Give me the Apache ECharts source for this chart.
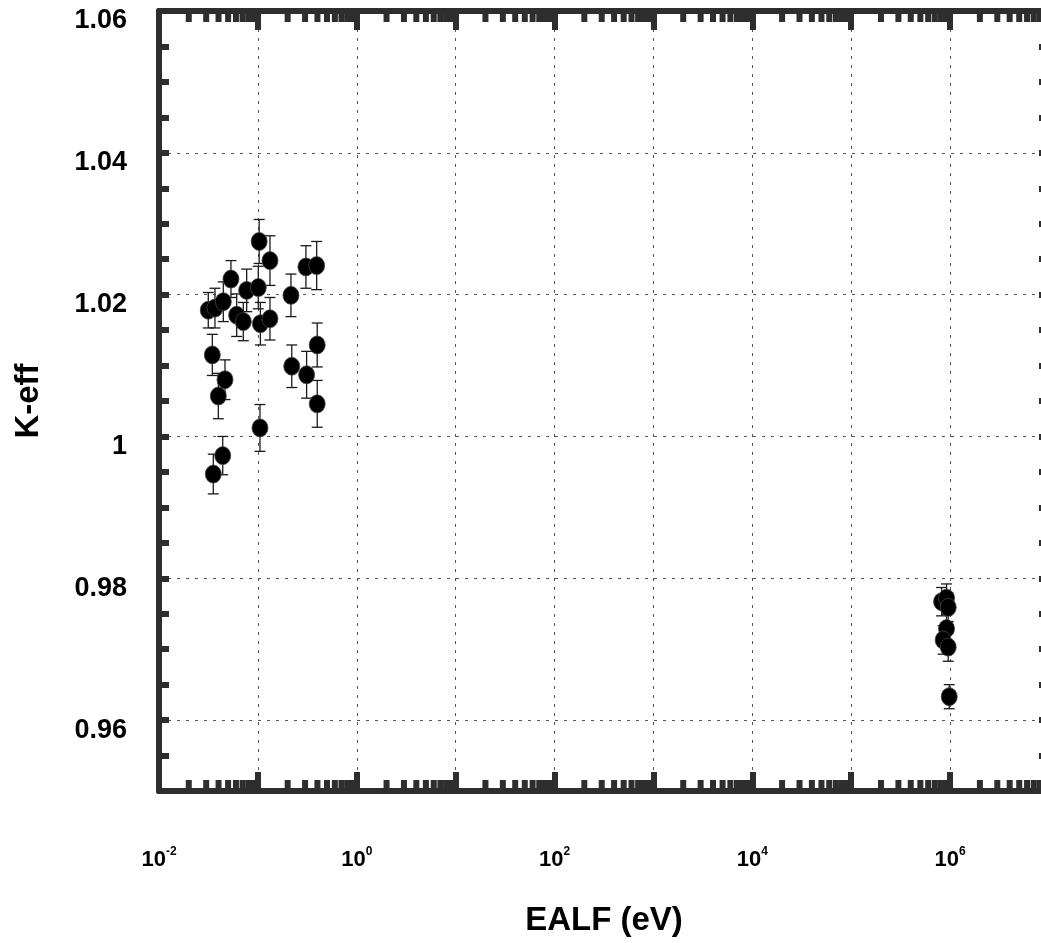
<!DOCTYPE html>
<html><head><meta charset="utf-8">
<script src="https://cdn.jsdelivr.net/npm/echarts@6/dist/echarts.min.js"></script>
<style>html,body{margin:0;padding:0;background:#fff}#c{width:1041px;height:943px}</style>
</head><body><div id="c"></div>
<script>
// EALF (eV) of each benchmark case
const ealf = [0.0315, 0.0346, 0.0354, 0.0368, 0.0398, 0.0441, 0.0447, 0.0465, 0.0534, 0.0610,
              0.0712, 0.0770, 0.1009, 0.1030, 0.1050, 0.1060, 0.1325, 0.1325, 0.216, 0.220,
              0.306, 0.311, 0.393, 0.398, 0.398,
              8.2e5, 9.2e5, 9.57e5, 9.2e5, 8.5e5, 9.57e5, 9.8e5];
// calculated k-eff
const keff = [1.0178, 1.0115, 0.9947, 1.0181, 1.0057, 0.9973, 1.0190, 1.0080, 1.0222, 1.0171,
              1.0162, 1.0206, 1.0210, 1.0275, 1.0012, 1.0159, 1.0248, 1.0166, 1.0199, 1.0099,
              1.0239, 1.0087, 1.0241, 1.0129, 1.0046,
              0.9767, 0.9772, 0.9759, 0.9729, 0.9713, 0.9703, 0.9633];
// one-sigma uncertainty
const sigma = [0.0025, 0.0029, 0.0028, 0.0028, 0.0032, 0.0027, 0.0028, 0.0028, 0.0026, 0.0030,
               0.0027, 0.0030, 0.0030, 0.0031, 0.0033, 0.0030, 0.0035, 0.0030, 0.0030, 0.0030,
               0.0030, 0.0033, 0.0034, 0.0031, 0.0033,
               0.0020, 0.0020, 0.0020, 0.0020, 0.0020, 0.0020, 0.0017];
const xLabelExponents = [-2, 0, 2, 4, 6];
const xRange = [0.01, 1e7];
const yRange = [0.95, 1.06];

const FONT = "'Liberation Sans', Arial, Helvetica, sans-serif";
const FRAME = '#2e2e2e';

const points = ealf.map((x, i) => [x, keff[i], sigma[i]]);
// log minor tick positions (2..9 x 10^n)
const minorVals = [];
for (let n = -2; n <= 6; n++) for (let k = 2; k <= 9; k++) minorVals.push([k * Math.pow(10, n), 1]);

const chart = echarts.init(document.getElementById('c'), null, {renderer: 'canvas'});

const xCommon = {
  type: 'log', logBase: 10, min: xRange[0], max: xRange[1], splitNumber: 9,
  axisLine: {show: true, onZero: false, lineStyle: {color: FRAME, width: 6}},
  axisTick: {show: true, inside: true, length: 19, lineStyle: {color: FRAME, width: 6}},
  minorTick: {show: false}, minorSplitLine: {show: false}
};
const yCommon = {
  type: 'value', min: yRange[0], max: yRange[1], scale: true,
  axisLine: {show: true, onZero: false, lineStyle: {color: FRAME, width: 6}},
  axisTick: {show: true, inside: true, length: 10, lineStyle: {color: FRAME, width: 6}},
  minorTick: {show: true, splitNumber: 4, length: 10, lineStyle: {color: FRAME, width: 6}},
  minorSplitLine: {show: false}
};
const gridLine = {show: true, lineStyle: {color: '#555', width: 1, type: [3, 6]}};

chart.setOption({
  animation: false,
  backgroundColor: '#fff',
  grid: {left: 159, top: 11, width: 890, height: 780, containLabel: false, outerBoundsMode: 'none', show: false},
  xAxis: [
    Object.assign({}, xCommon, {
      position: 'bottom',
      name: 'EALF (eV)', nameLocation: 'middle', nameGap: 113,
      nameTextStyle: {fontFamily: FONT, fontWeight: 'bold', fontSize: 33, color: '#000'},
      splitLine: gridLine,
      axisLabel: {
        show: true, margin: 55, showMinLabel: true, showMaxLabel: true,
        formatter: v => {
          const e = Math.round(Math.log10(v));
          return xLabelExponents.includes(e) ? '{b|10}{s|' + e + '}' : '';
        },
        rich: {
          b: {fontFamily: FONT, fontWeight: 'bold', fontSize: 22, lineHeight: 28, color: '#000'},
          s: {fontFamily: FONT, fontWeight: 'bold', fontSize: 12, lineHeight: 14, verticalAlign: 'top', color: '#000'}
        }
      }
    }),
    Object.assign({}, xCommon, {
      position: 'top', splitLine: {show: false}, axisLabel: {show: false}
    })
  ],
  yAxis: [
    Object.assign({}, yCommon, {
      position: 'left',
      name: 'K-eff', nameLocation: 'middle', nameGap: 114,
      nameTextStyle: {fontFamily: FONT, fontWeight: 'bold', fontSize: 33, color: '#000'},
      splitLine: gridLine,
      axisLabel: {
        show: true, margin: 32, showMinLabel: false,
        fontFamily: FONT, fontWeight: 'bold', fontSize: 27, color: '#000',
        verticalAlign: 'top', lineHeight: 20,
        formatter: v => {
          const r = Math.round(v * 1000) / 1000;
          if (Math.abs(r - yRange[0]) < 1e-9) return '';
          return String(parseFloat(r.toFixed(3)));
        }
      }
    }),
    Object.assign({}, yCommon, {
      position: 'right', splitLine: {show: false}, axisLabel: {show: false}
    })
  ],
  series: [
    {
      type: 'custom', name: 'minor-ticks', xAxisIndex: 0, yAxisIndex: 0, silent: true, z: 5,
      data: minorVals,
      encode: {x: 0, y: 1},
      renderItem: (params, api) => {
        const cs = params.coordSys;
        const cx = api.coord([api.value(0), yRange[0]])[0];
        const bottom = cs.y + cs.height;
        return {
          type: 'group',
          children: [
            {type: 'rect', shape: {x: cx - 3, y: bottom - 11, width: 6, height: 11}, style: {fill: FRAME}},
            {type: 'rect', shape: {x: cx - 3, y: cs.y, width: 6, height: 11}, style: {fill: FRAME}}
          ]
        };
      }
    },
    {
      type: 'custom', name: 'error-bars', xAxisIndex: 0, yAxisIndex: 0, silent: true, z: 3,
      data: points,
      encode: {x: 0, y: 1},
      renderItem: (params, api) => {
        const x = api.value(0), y = api.value(1), e = api.value(2);
        const hi = api.coord([x, y + e]);
        const lo = api.coord([x, y - e]);
        const w = 5.5;
        const st = {stroke: '#1a1a1a', lineWidth: 1.3};
        return {
          type: 'group',
          children: [
            {type: 'line', shape: {x1: hi[0], y1: hi[1], x2: lo[0], y2: lo[1]}, style: st},
            {type: 'line', shape: {x1: hi[0] - w, y1: hi[1], x2: hi[0] + w, y2: hi[1]}, style: st},
            {type: 'line', shape: {x1: lo[0] - w, y1: lo[1], x2: lo[0] + w, y2: lo[1]}, style: st}
          ]
        };
      }
    },
    {
      type: 'scatter', name: 'k-eff', xAxisIndex: 0, yAxisIndex: 0, z: 4,
      data: points.map(p => [p[0], p[1]]),
      symbol: 'circle', symbolSize: [16, 18],
      itemStyle: {color: '#000', borderColor: '#444', borderWidth: 0.8, opacity: 1}
    }
  ]
});
</script></body></html>
